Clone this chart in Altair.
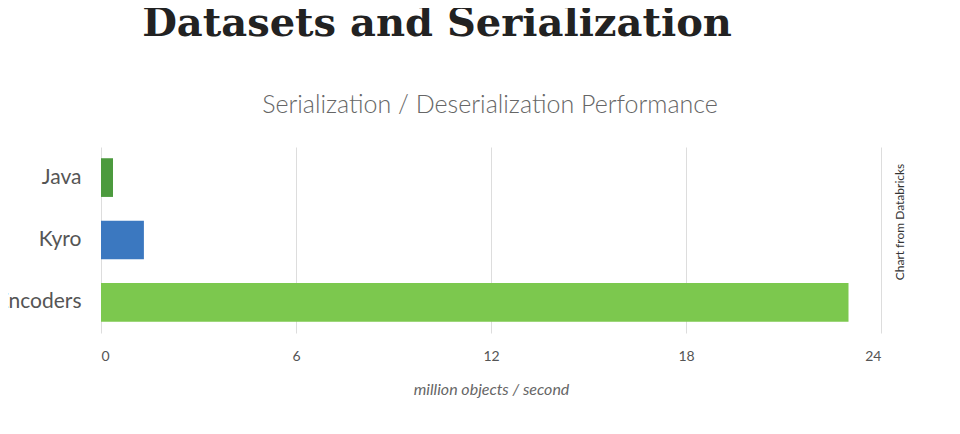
import altair as alt
import pandas as pd

cats = ["Java", "Kyro", "Encoders"]
vals = [0.37, 1.32, 23.0]
colors = ["#4c9a3e", "#3b78c0", "#7cc84e"]
df = pd.DataFrame({"cat": cats, "val": vals, "col": colors})

bars = alt.Chart(df).mark_bar().encode(
    y=alt.Y("cat:N", sort=cats, title=None,
            scale=alt.Scale(paddingInner=0.38, paddingOuter=0.18),
            axis=alt.Axis(labelFontSize=21, labelColor="#555", labelFont="Lato",
                          ticks=False, domain=False, labelPadding=20)),
    x=alt.X("val:Q", scale=alt.Scale(domain=[0, 24]), title="million objects / second",
            axis=alt.Axis(values=[0, 6, 12, 18, 24], labelFontSize=14, labelColor="#555",
                          labelFont="Lato", ticks=False, domain=False, labelPadding=16,
                          gridColor="#ddd", titleFont="Lato", titleFontStyle="italic",
                          titleFontWeight="normal", titleFontSize=16, titleColor="#666",
                          titlePadding=18)),
    color=alt.Color("col:N", scale=None),
)

def txt(s, x, y, size, font, weight="normal", color="#333", angle=0):
    return alt.Chart(pd.DataFrame({"t": [s]})).mark_text(
        fontSize=size, font=font, fontWeight=weight, color=color, angle=angle,
        align="center", baseline="middle").encode(
        text="t:N", x=alt.value(x), y=alt.value(y))

chart = alt.layer(
    bars,
    txt("Datasets and Serialization", 336, -123, 40, "DejaVu Serif", "bold", "#222"),
    txt("Serialization / Deserialization Performance", 389, -42, 25, "Lato", 300, "#666"),
    txt("Chart from Databricks", 799, 75, 12, "Lato", "normal", "#333", 270),
).properties(
    width=780, height=186, autosize=alt.AutoSizeParams(type="none"),
    padding={"left": 93, "top": 139, "right": 60, "bottom": 80},
).configure_view(stroke=None)

chart.save("out.html", embed_options={"renderer": "svg", "actions": False})
